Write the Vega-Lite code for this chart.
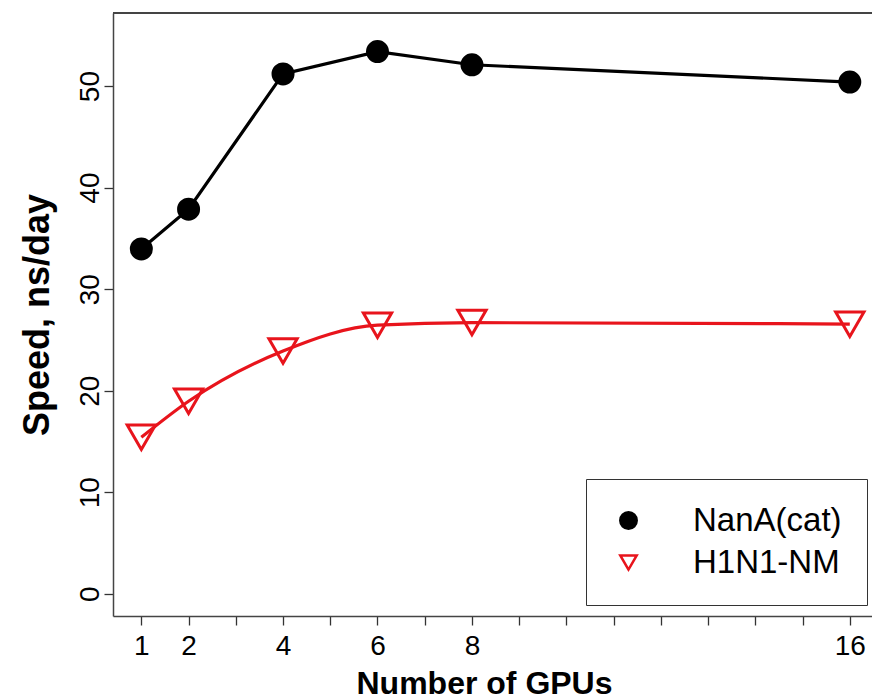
{
  "$schema": "https://vega.github.io/schema/vega-lite/v6.json",
  "width": 759,
  "height": 603,
  "autosize": {"type": "none"},
  "padding": {"left": 113, "top": 13, "right": 0, "bottom": 83},
  "background": "white",
  "config": {
    "view": {"stroke": null},
    "font": "Liberation Sans",
    "axis": {"grid": false, "domainColor": "#444", "domainWidth": 1.5, "tickColor": "#333", "tickWidth": 1.3, "tickSize": 9, "labelFont": "Liberation Sans", "titleFont": "Liberation Sans", "labelColor": "#000", "titleColor": "#000"}
  },
  "data": {
    "values": [
      {"gpus": 1, "speed": 33.96, "series": "NanA(cat)"},
      {"gpus": 2, "speed": 37.87, "series": "NanA(cat)"},
      {"gpus": 4, "speed": 51.2, "series": "NanA(cat)"},
      {"gpus": 6, "speed": 53.4, "series": "NanA(cat)"},
      {"gpus": 8, "speed": 52.1, "series": "NanA(cat)"},
      {"gpus": 16, "speed": 50.4, "series": "NanA(cat)"},
      {"gpus": 1, "speed": 15.4, "series": "H1N1-NM"},
      {"gpus": 2, "speed": 18.95, "series": "H1N1-NM"},
      {"gpus": 4, "speed": 23.9, "series": "H1N1-NM"},
      {"gpus": 6, "speed": 26.45, "series": "H1N1-NM"},
      {"gpus": 8, "speed": 26.7, "series": "H1N1-NM"},
      {"gpus": 16, "speed": 26.55, "series": "H1N1-NM"}
    ]
  },
  "encoding": {
    "x": {
      "field": "gpus", "type": "quantitative",
      "scale": {"domain": [0.4, 16.47], "nice": false, "zero": false},
      "axis": {
        "title": "Number of GPUs", "titleFontSize": 32, "titleFontWeight": "bold", "titlePadding": 8, "titleX": 371,
        "values": [1,2,3,4,5,6,7,8,9,10,11,12,13,14,15,16],
        "labelExpr": "indexof([1,2,4,6,8,16], datum.value) >= 0 ? datum.label : ''",
        "labelFontSize": 28, "labelPadding": 7, "labelFlush": false, "labelOverlap": false
      }
    },
    "y": {
      "field": "speed", "type": "quantitative",
      "scale": {"domain": [-2.2, 57.2], "nice": false, "zero": false},
      "axis": {
        "title": "Speed, ns/day", "titleFontSize": 36, "titleFontWeight": "bold", "titlePadding": 20,
        "values": [0, 10, 20, 30, 40, 50],
        "labelAngle": -90, "labelAlign": "center", "labelBaseline": "alphabetic",
        "labelFontSize": 28, "labelPadding": 6, "labelFlush": false
      }
    }
  },
  "layer": [
    {
      "mark": {"type": "rule", "color": "#444", "strokeWidth": 1.5},
      "encoding": {"y": {"datum": 57.2}, "x": null}
    },
    {
      "transform": [{"filter": "datum.series === 'NanA(cat)'"}],
      "mark": {"type": "line", "color": "#000", "strokeWidth": 3.2}
    },
    {
      "transform": [{"filter": "datum.series === 'H1N1-NM'"}],
      "mark": {"type": "line", "color": "#e8141c", "strokeWidth": 3.2, "interpolate": "monotone"}
    },
    {
      "mark": {"type": "point", "opacity": 1, "strokeWidth": 3},
      "encoding": {
        "shape": {
          "field": "series", "type": "nominal",
          "scale": {"domain": ["NanA(cat)", "H1N1-NM"], "range": ["circle", "triangle-down"]},
          "legend": {
            "title": null, "orient": "none", "legendX": 473, "legendY": 466,
            "strokeColor": "#333", "padding": 25, "symbolOffset": 1, "labelOffset": 48,
            "labelFontSize": 33, "labelFont": "Liberation Sans", "labelColor": "#000",
            "symbolSize": 270, "symbolStrokeWidth": 2.5, "rowPadding": 8
          }
        },
        "fill": {
          "field": "series", "type": "nominal",
          "scale": {"domain": ["NanA(cat)", "H1N1-NM"], "range": ["#000", "transparent"]},
          "legend": {
            "title": null, "orient": "none", "legendX": 473, "legendY": 466,
            "strokeColor": "#333", "padding": 25, "symbolOffset": 1, "labelOffset": 48,
            "labelFontSize": 33, "labelFont": "Liberation Sans", "labelColor": "#000",
            "symbolSize": 270, "symbolStrokeWidth": 2.5, "rowPadding": 8
          }
        },
        "stroke": {
          "field": "series", "type": "nominal",
          "scale": {"domain": ["NanA(cat)", "H1N1-NM"], "range": ["#000", "#e8141c"]},
          "legend": {
            "title": null, "orient": "none", "legendX": 473, "legendY": 466,
            "strokeColor": "#333", "padding": 25, "symbolOffset": 1, "labelOffset": 48,
            "labelFontSize": 33, "labelFont": "Liberation Sans", "labelColor": "#000",
            "symbolSize": 270, "symbolStrokeWidth": 2.5, "rowPadding": 8
          }
        },
        "size": {
          "field": "series", "type": "nominal",
          "scale": {"domain": ["H1N1-NM", "NanA(cat)"], "range": [800, 400]},
          "legend": null
        }
      }
    }
  ]
}
